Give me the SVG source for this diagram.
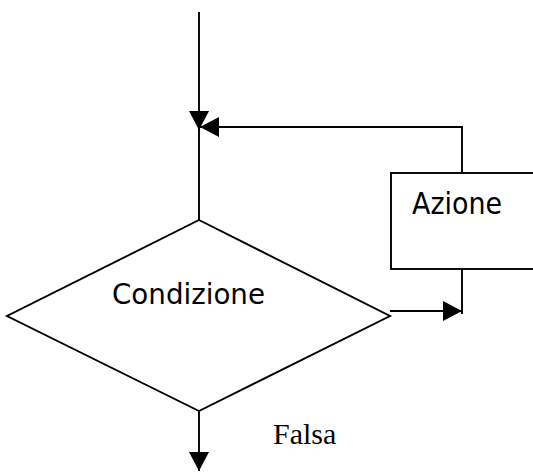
<svg xmlns="http://www.w3.org/2000/svg" width="533" height="472" viewBox="0 0 533 472">
<defs>
<style>
.ln{fill:none;stroke:#000;stroke-width:1.9}
.shape{fill:#fff;stroke:#000;stroke-width:1.9}
.sans{font-family:"DejaVu Sans","Liberation Sans",sans-serif;fill:#000}
.serif{font-family:"Liberation Serif","Times New Roman",serif;fill:#000}
</style>
<marker id="arr" markerUnits="userSpaceOnUse" markerWidth="20" markerHeight="20" viewBox="0 0 19 20" refX="19" refY="10" orient="auto">
<path d="M0,0 L19,10 L0,20 Z" fill="#000"/>
</marker>
</defs>
<g id="connectors">
<line class="ln" x1="199" y1="12" x2="199" y2="130" marker-end="url(#arr)"/>
<line class="ln" x1="199" y1="128" x2="199" y2="220"/>
<polyline class="ln" points="462,173 462,127 200,127" marker-end="url(#arr)"/>
<line class="ln" x1="390" y1="311" x2="462" y2="311" marker-end="url(#arr)"/>
<line class="ln" x1="462" y1="269" x2="462" y2="314"/>
<line class="ln" x1="199" y1="411" x2="199" y2="471" marker-end="url(#arr)"/>
</g>
<g id="condizione">
<polygon class="shape" points="199,220 390,316 199,411 7,316"/>
<text class="sans" x="112" y="304" font-size="28.5" textLength="153" lengthAdjust="spacingAndGlyphs">Condizione</text>
</g>
<g id="azione">
<rect class="shape" x="391" y="173" width="160" height="96"/>
<text class="sans" x="412" y="214" font-size="30" textLength="90" lengthAdjust="spacingAndGlyphs">Azione</text>
</g>
<g id="falsa">
<text class="serif" x="273" y="444" font-size="30">Falsa</text>
</g>
</svg>
